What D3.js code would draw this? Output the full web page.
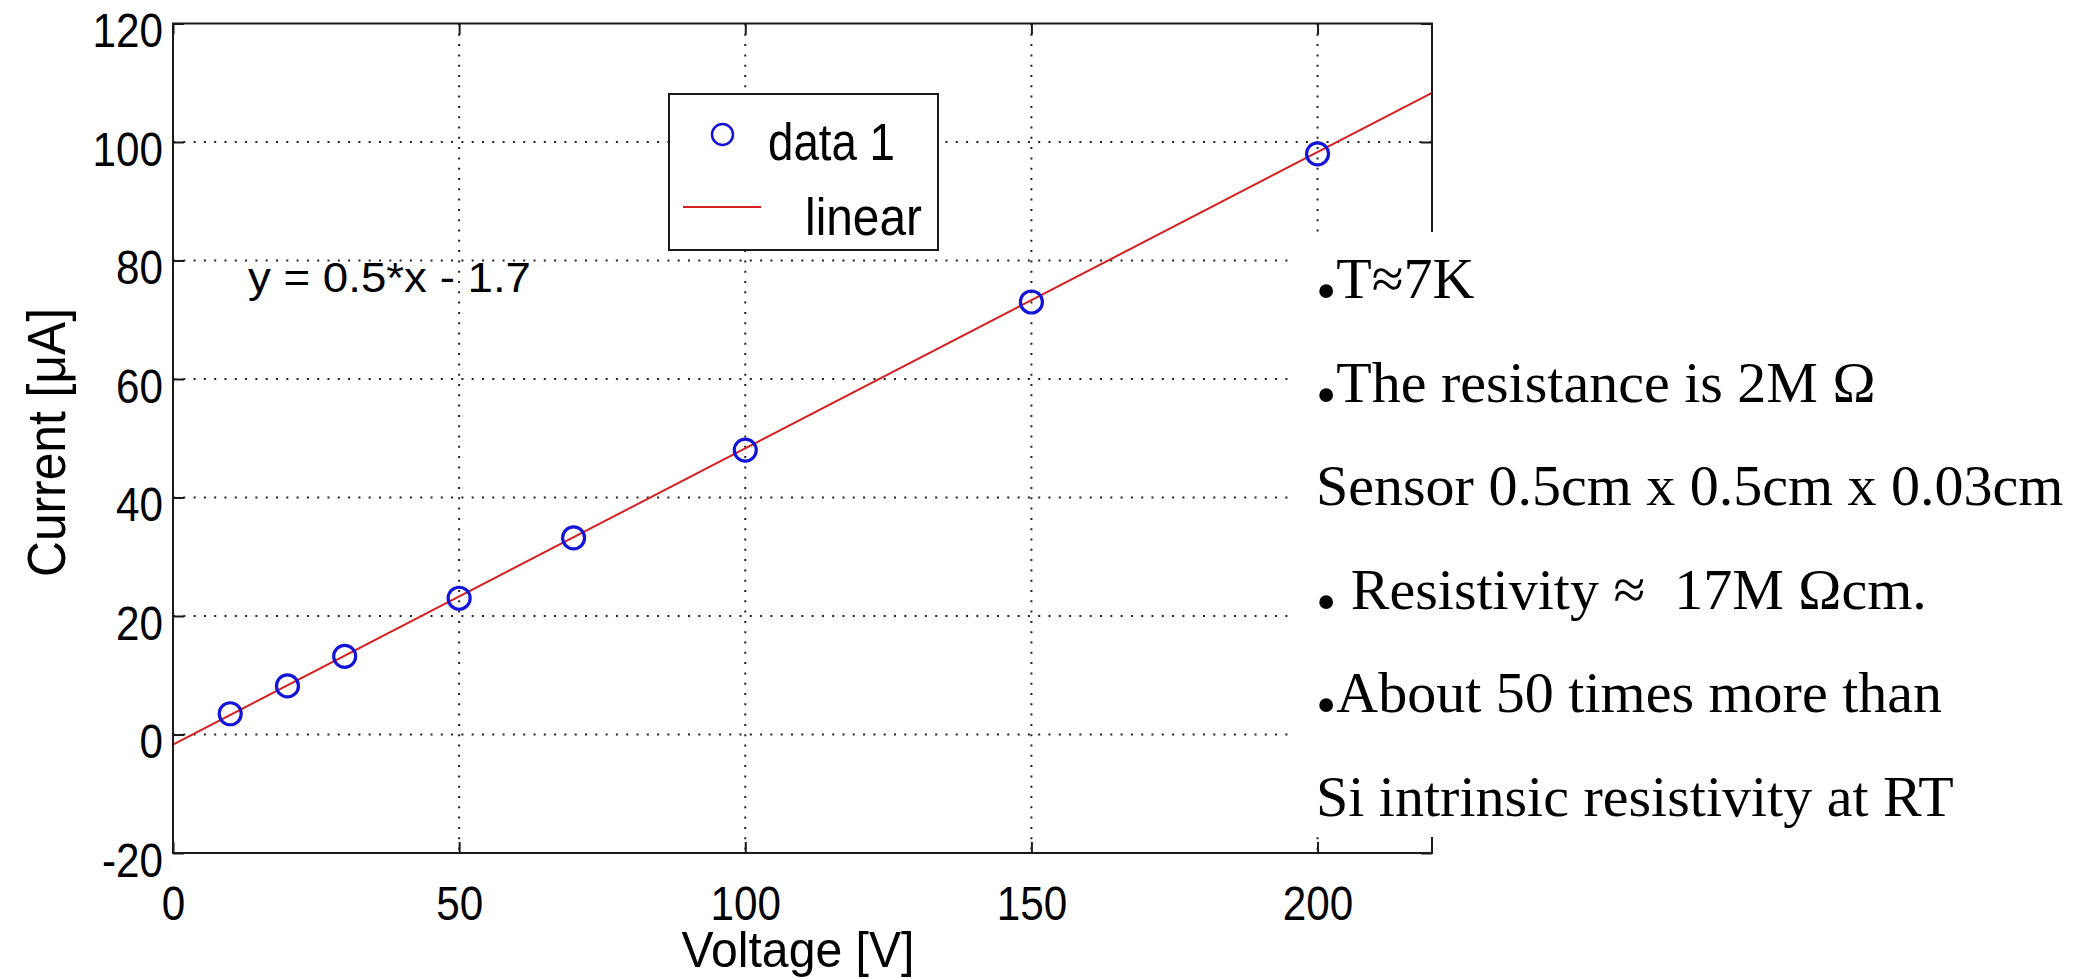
<!DOCTYPE html>
<html>
<head>
<meta charset="utf-8">
<script src="https://cdn.jsdelivr.net/npm/d3@7"></script>
<style>
  html, body { margin: 0; padding: 0; background: #fff; }
  svg { display: block; }
  .sans { font-family: "Liberation Sans", Arial, Helvetica, sans-serif; fill: #000; }
  .serif { font-family: "Liberation Serif", "Times New Roman", serif; fill: #000; white-space: pre; }
</style>
</head>
<body>
<svg id="chart" width="2090" height="979"></svg>
<script>
// Measured I–V points of the sensor
const voltage = [10, 20, 30, 50, 70, 100, 150, 200];
const current = [3.5, 8.2, 13.2, 23, 33.2, 48, 73, 98];

// Linear fit: y = 0.5*x - 1.7
const fitSlope = 0.5;
const fitIntercept = -1.7;
const fitRange = [0, 220];

// Axis ticks
const xTicks = [0, 50, 100, 150, 200];
const yTicks = [-20, 0, 20, 40, 60, 80, 100, 120];

// Notes shown beside the plot
const noteBullets = [true, true, false, true, true, false];
const noteLines = [
  "T\u22487K",
  "The resistance is 2M \u03A9",
  "Sensor 0.5cm x 0.5cm x 0.03cm",
  " Resistivity \u2248  17M \u03A9cm.",
  "About 50 times more than",
  "Si intrinsic resistivity at RT"
];

const legendLabels = ["data 1", "linear"];
const equationLabel = "y = 0.5*x - 1.7";

const svg = d3.select("#chart");
const plotL = 173, plotR = 1432, plotT = 23.5, plotB = 853;

const x = d3.scaleLinear().domain([0, 220]).range([plotL, plotR]);
const y = d3.scaleLinear().domain([-20, 120]).range([plotB, plotT]);

const ink = "#1a1a1a";
const red = "#d42020";
const blue = "#1414d8";

// narrow the sans glyphs slightly, like the original plotting font
function squeeze(sel, k) {
  sel.each(function () {
    const w = this.getComputedTextLength();
    d3.select(this).attr("textLength", w * k).attr("lengthAdjust", "spacingAndGlyphs");
  });
}

// dotted grid
const grid = svg.append("g").attr("stroke", "#222").attr("stroke-width", 2)
  .attr("stroke-dasharray", "2 8.3");
grid.selectAll(".gx").data(xTicks.filter(d => d > 0)).join("line")
  .attr("x1", d => x(d)).attr("x2", d => x(d)).attr("y1", plotT).attr("y2", plotB);
grid.selectAll(".gy").data(yTicks.filter(d => d > -20 && d < 120)).join("line")
  .attr("y1", d => y(d)).attr("y2", d => y(d)).attr("x1", plotL).attr("x2", plotR);

// fitted line
svg.append("path")
  .datum(fitRange.map(v => [v, fitSlope * v + fitIntercept]))
  .attr("fill", "none").attr("stroke", red).attr("stroke-width", 2)
  .attr("d", d3.line().x(d => x(d[0])).y(d => y(d[1])));

// data markers
svg.append("g").selectAll("circle").data(voltage.map((v, i) => [v, current[i]])).join("circle")
  .attr("cx", d => x(d[0])).attr("cy", d => y(d[1])).attr("r", 11)
  .attr("fill", "none").attr("stroke", blue).attr("stroke-width", 3.2);

// axes
const axFont = 48;
const plainNum = d => String(d);
const gL = svg.append("g").attr("transform", `translate(${plotL},0)`)
  .call(d3.axisLeft(y).tickValues(yTicks).tickSize(-11).tickSizeOuter(0).tickPadding(10).tickFormat(plainNum));
const gB = svg.append("g").attr("transform", `translate(0,${plotB})`)
  .call(d3.axisBottom(x).tickValues(xTicks).tickSize(-11).tickSizeOuter(0).tickPadding(33).tickFormat(plainNum));
const gT = svg.append("g").attr("transform", `translate(0,${plotT})`)
  .call(d3.axisTop(x).tickValues(xTicks).tickSize(-11).tickSizeOuter(0).tickFormat(""));
const gR = svg.append("g").attr("transform", `translate(${plotR},0)`)
  .call(d3.axisRight(y).tickValues(yTicks).tickSize(-11).tickSizeOuter(0).tickFormat(""));
[gL, gB, gT, gR].forEach(g => {
  g.select(".domain").remove();
  g.selectAll("line").attr("stroke", ink).attr("stroke-width", 2);
  g.selectAll("text").attr("class", "sans").attr("font-size", axFont).attr("fill", "#000");
});
gL.selectAll("text").attr("dy", "0.48em");
squeeze(gL.selectAll("text"), 0.88);
squeeze(gB.selectAll("text"), 0.88);

svg.append("rect").attr("x", plotL).attr("y", plotT).attr("width", plotR - plotL).attr("height", plotB - plotT)
  .attr("fill", "none").attr("stroke", ink).attr("stroke-width", 2);

// axis titles
svg.append("text").attr("class", "sans").attr("font-size", 54)
  .attr("text-anchor", "middle").attr("transform", "translate(65,442.5) rotate(-90)")
  .attr("textLength", 269).attr("lengthAdjust", "spacingAndGlyphs")
  .text("Current [\u03BCA]");
svg.append("text").attr("class", "sans").attr("font-size", 50)
  .attr("text-anchor", "middle").attr("x", 798).attr("y", 967)
  .attr("textLength", 233).attr("lengthAdjust", "spacingAndGlyphs")
  .text("Voltage [V]");

// fit equation
svg.append("text").attr("class", "sans").attr("font-size", 42)
  .attr("x", 248).attr("y", 292)
  .attr("textLength", 283).attr("lengthAdjust", "spacingAndGlyphs")
  .text(equationLabel);

// legend
const lg = svg.append("g");
lg.append("rect").attr("x", 669).attr("y", 94).attr("width", 269).attr("height", 156)
  .attr("fill", "#fff").attr("stroke", ink).attr("stroke-width", 2);
lg.append("circle").attr("cx", 722.5).attr("cy", 134.5).attr("r", 10.5)
  .attr("fill", "none").attr("stroke", blue).attr("stroke-width", 2.5);
lg.append("line").attr("x1", 683).attr("x2", 761).attr("y1", 207).attr("y2", 207)
  .attr("stroke", red).attr("stroke-width", 2);
lg.append("text").attr("class", "sans").attr("font-size", 51).attr("x", 768).attr("y", 160)
  .attr("textLength", 127).attr("lengthAdjust", "spacingAndGlyphs").text(legendLabels[0]);
lg.append("text").attr("class", "sans").attr("font-size", 51).attr("x", 805).attr("y", 235)
  .attr("textLength", 117).attr("lengthAdjust", "spacingAndGlyphs").text(legendLabels[1]);

// notes panel (opaque, lies over the right part of the plot)
svg.append("rect").attr("x", 1295).attr("y", 232).attr("width", 2090 - 1295).attr("height", 837 - 232)
  .attr("fill", "#fff");
const notes = svg.append("g");
noteLines.forEach((line, i) => {
  const t = notes.append("text").attr("class", "serif").attr("font-size", 58)
    .attr("x", 1316).attr("y", 298 + i * 103.5);
  if (noteBullets[i]) {
    t.append("tspan").attr("dy", 12).text("\u2022");
    t.append("tspan").attr("dy", -12).text(line);
  } else {
    t.append("tspan").text(line);
  }
});
</script>
</body>
</html>
